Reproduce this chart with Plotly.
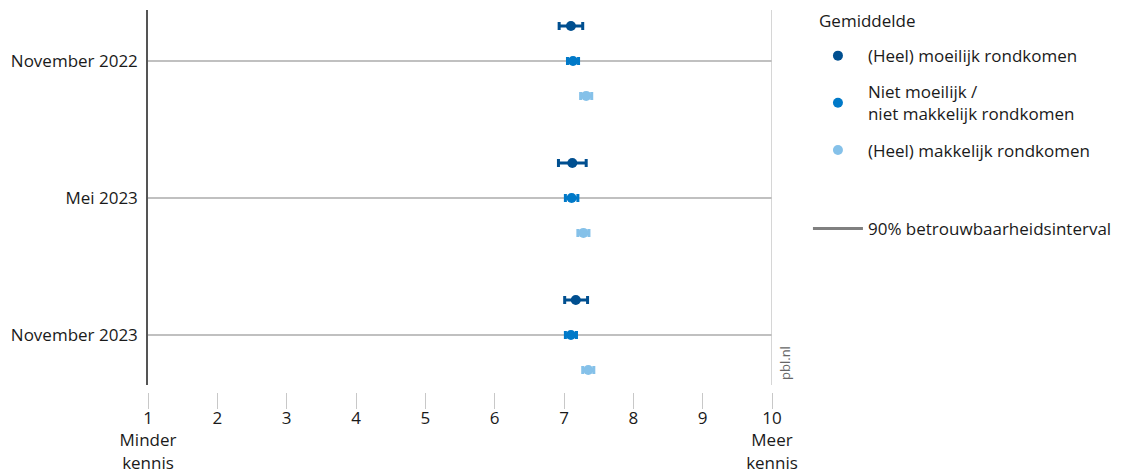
import plotly.graph_objects as go

periods = ["November 2022", "Mei 2023", "November 2023"]
series_names = ["(Heel) moeilijk rondkomen",
                "Niet moeilijk /<br>niet makkelijk rondkomen",
                "(Heel) makkelijk rondkomen"]
colors = ["#004f90", "#0079c8", "#85c1e9"]

means = [
    [7.10, 7.12, 7.17],   # (Heel) moeilijk
    [7.13, 7.11, 7.10],   # Niet moeilijk / niet makkelijk
    [7.32, 7.28, 7.35],   # (Heel) makkelijk
]
ci_low = [
    [6.93, 6.92, 7.01],
    [7.05, 7.02, 7.02],
    [7.24, 7.20, 7.27],
]
ci_high = [
    [7.27, 7.32, 7.34],
    [7.21, 7.20, 7.18],
    [7.40, 7.36, 7.43],
]
offsets = [-0.255, 0.0, 0.255]
x_ticks = [1, 2, 3, 4, 5, 6, 7, 8, 9, 10]
x_ticktext = ["1<br>Minder<br>kennis", "2", "3", "4", "5", "6", "7", "8", "9", "10<br>Meer<br>kennis"]

FONT = "Open Sans"
FS = 17
fig = go.Figure()

for i, name in enumerate(series_names):
    ys = [k + offsets[i] for k in range(len(periods))]
    fig.add_trace(go.Scatter(
        x=means[i], y=ys, mode="markers", name=name,
        legendgroup=f"g{i}", legend="legend",
        marker=dict(color=colors[i], size=10, symbol="circle"),
        error_x=dict(type="data", symmetric=False,
                     array=[h - m for h, m in zip(ci_high[i], means[i])],
                     arrayminus=[m - l for m, l in zip(means[i], ci_low[i])],
                     color=colors[i], thickness=3, width=4),
        hoverinfo="x",
    ))

fig.add_trace(go.Scatter(
    x=[None], y=[None], mode="lines", name="90% betrouwbaarheidsinterval",
    line=dict(color="#808080", width=3), legend="legend2", hoverinfo="skip",
))

fig.add_shape(type="line", xref="x", yref="y domain", x0=10, x1=10, y0=0, y1=1,
              line=dict(color="#c8c8c8", width=1.5))

fig.add_annotation(text="pbl.nl", xref="paper", yref="paper", x=1.022, y=0.12,
                   xanchor="center", yanchor="bottom", textangle=-90, showarrow=False,
                   font=dict(family=FONT, size=13, color="#666666"))

fig.add_annotation(text="Gemiddelde", xref="paper", yref="paper", x=1.072, y=0.976,
                   xanchor="left", yanchor="middle", showarrow=False,
                   font=dict(family=FONT, size=FS, color="#1a1a1a"))

fig.update_layout(
    width=1118, height=465,
    margin=dict(l=140, r=354, t=2, b=40),
    paper_bgcolor="white", plot_bgcolor="white",
    font=dict(family=FONT, size=FS, color="#1a1a1a"),
    showlegend=True,
    legend=dict(
        x=1.0576, y=0.9336, xanchor="left", yanchor="top",
        traceorder="grouped", tracegroupgap=11,
        font=dict(size=FS), itemwidth=50, bgcolor="rgba(0,0,0,0)",
    ),
    legend2=dict(
        x=1.0576, y=0.525, xanchor="left", yanchor="top",
        font=dict(size=FS), itemwidth=50, bgcolor="rgba(0,0,0,0)",
    ),
    xaxis=dict(
        range=[1, 10], tickvals=x_ticks, ticktext=x_ticktext,
        showgrid=False, zeroline=False, showline=False,
        ticks="outside", ticklen=16, tickwidth=1, tickcolor="#c8c8c8",
        anchor="free", position=0.097, automargin=False,
        ticklabelstandoff=-5,
        tickfont=dict(size=FS),
    ),
    yaxis=dict(
        range=[2.365, -0.372], tickvals=[0, 1, 2], ticktext=periods,
        domain=[0.1135, 1], showgrid=True, gridcolor="#c0c0c0", gridwidth=1.5,
        zeroline=False, showline=True, linecolor="#555555", linewidth=1.5,
        ticks="", ticklabelstandoff=5, automargin=False,
        tickfont=dict(size=FS),
    ),
)

fig.write_html("out.html")
